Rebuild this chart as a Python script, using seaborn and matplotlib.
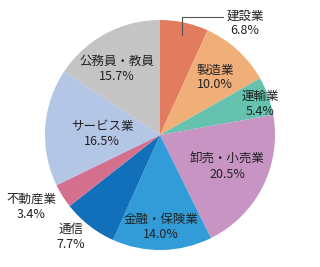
import matplotlib
matplotlib.use("Agg")
import matplotlib.pyplot as plt
import seaborn as sns
import numpy as np

categories = ["建設業", "製造業", "運輸業", "卸売・小売業", "金融・保険業", "通信", "不動産業", "サービス業", "公務員・教員"]
values = [6.8, 10.0, 5.4, 20.5, 14.0, 7.7, 3.4, 16.5, 15.7]
colors = ["#E37B5F", "#F0AF78", "#64C2AE", "#C794C3", "#319CD7", "#1170B9", "#D4708D", "#B4C6E5", "#C4C4C4"]
# label centre positions (axes data units)
label_pos = [(0.74, 0.97), (0.478, 0.50), (0.87, 0.27), (0.583, -0.278), (0.01, -0.80),
             (-0.774, -0.887), (-1.12, -0.626), (-0.504, 0.009), (-0.374, 0.574)]

sns.set_theme(style="white")
plt.rcParams['font.family'] = ['Noto Sans CJK JP', 'DejaVu Sans']

fig = plt.figure(figsize=(3.2, 2.67), dpi=100)
ax = fig.add_axes([0.1406, 0.0637, 0.7188, 0.8614])
wedges, _ = ax.pie(values, colors=colors, startangle=90, counterclock=False,
                   radius=1.0, wedgeprops=dict(linewidth=0))
ax.set_xlim(-1, 1)
ax.set_ylim(-1, 1)
ax.set_aspect('equal')
ax.axis('off')

for cat, val, (x, y) in zip(categories, values, label_pos):
    ax.text(x, y, f"{cat}\n{val:.1f}%", ha='center', va='center', fontsize=9,
            color='#222222', linespacing=1.15)

# leader line for 建設業
w = wedges[0]
ang = np.deg2rad((w.theta1 + w.theta2) / 2)
x0 = 0.9 * np.cos(ang)
ax.plot([x0, x0, 0.548], [0.87, 1.026, 1.026], color='#555555', lw=0.8, clip_on=False)

fig.savefig("out.png", dpi=100)
